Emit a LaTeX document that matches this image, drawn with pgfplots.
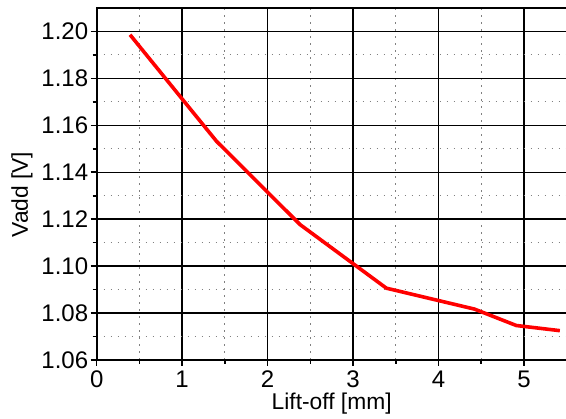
\documentclass[border=0pt]{standalone}
\usepackage{fontspec}
\setmainfont{Liberation Sans}
\usepackage{pgfplots}
\pgfplotsset{compat=1.18}
\begin{document}
\begin{tikzpicture}
\useasboundingbox (-96.7pt,-59pt) rectangle (469.3pt,360pt);
\begin{axis}[
  scale only axis,
  width=470pt, height=352pt,
  at={(0pt,0pt)}, anchor=south west,
  xmin=0, xmax=5.5, ymin=1.06, ymax=1.21,
  xtick={0,1,2,3,4,5},
  ytick={1.06,1.08,1.10,1.12,1.14,1.16,1.18,1.20},
  minor x tick num=1, minor y tick num=1,
  xtick pos=left, ytick pos=left,
  tick align=outside,
  major tick length=6pt, minor tick length=4pt,
  every tick/.style={black, line width=1.6pt},
  axis line style={line width=2pt},
  grid=both,
  major grid style={line width=1.4pt, color=black},
  minor grid style={line width=1pt, color=gray, dash pattern=on 1.5pt off 5.5pt},
  /pgf/number format/assume math mode=true,
  yticklabel style={xshift=1pt, /pgf/number format/.cd, fixed, fixed zerofill, precision=2},
  tick label style={font=\fontsize{24}{28}\selectfont},
  xticklabel style={yshift=-1pt},
  label style={font=\fontsize{22.8}{27}\selectfont},
  xlabel={Lift-off [mm]},
  ylabel={Vadd [V]},
  xlabel style={at={(axis description cs:0.5,0)}, anchor=base, yshift=-50pt},
  ylabel style={at={(axis description cs:0,0.47)}, anchor=base, yshift=68.7pt},
]
\addplot[red, line width=3.6pt, line join=round] coordinates {
(0.39,1.1986) (1.40,1.1533) (2.38,1.1177) (3.39,1.0906) (4.42,1.0817) (4.91,1.0747) (5.42,1.0725)
};
\end{axis}
\end{tikzpicture}
\end{document}
